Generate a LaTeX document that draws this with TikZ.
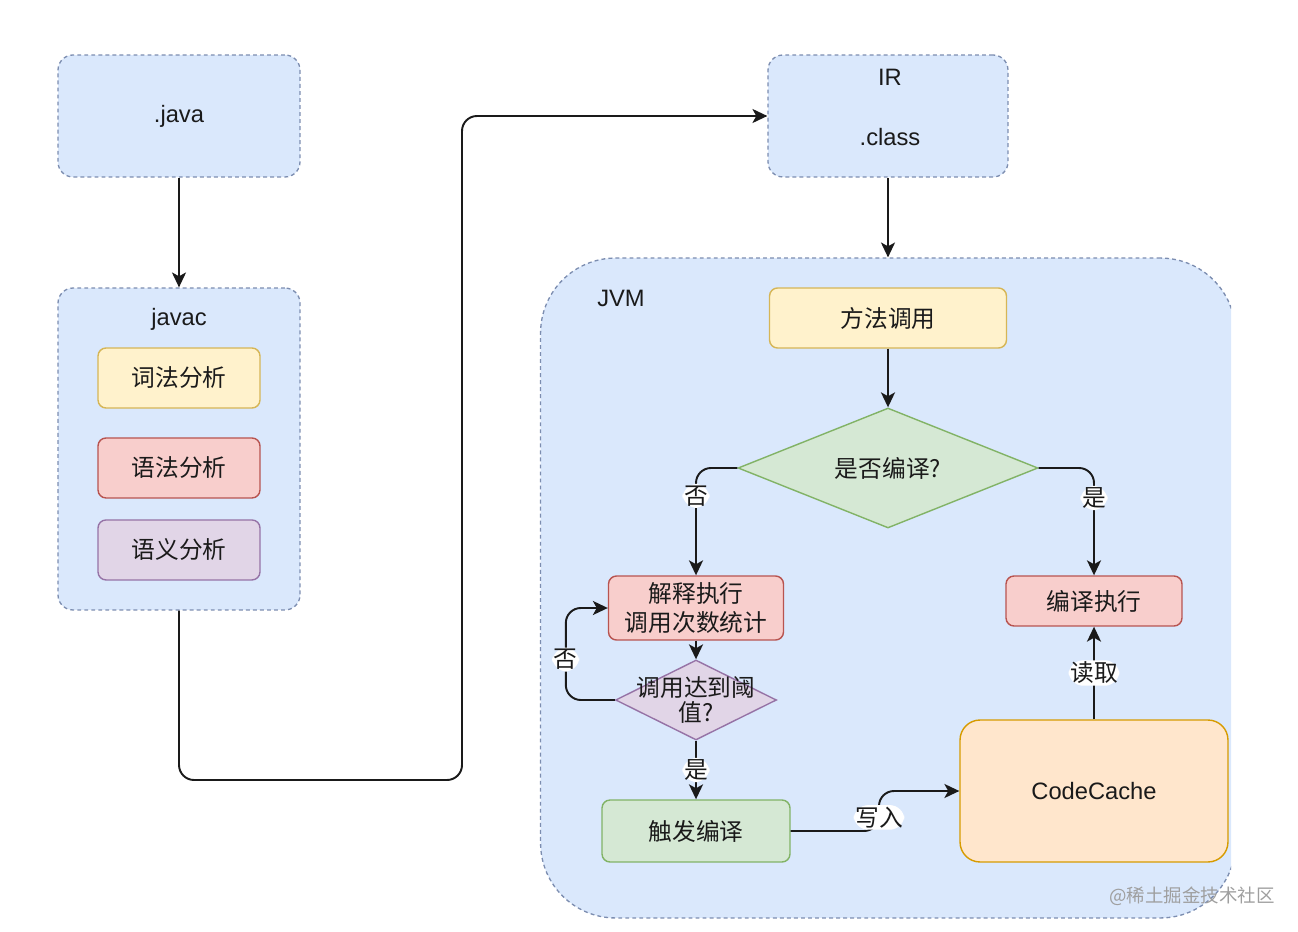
\documentclass[tikz,border=0pt]{standalone}
\usepackage{fontspec}
\setmainfont{Liberation Sans}
\newfontfamily\cjk{Noto Sans CJK SC}
\usetikzlibrary{shapes.geometric,arrows.meta}

\definecolor{blueFill}{HTML}{DAE8FC}
\definecolor{blueLine}{HTML}{7C8DB0}
\definecolor{yellowFill}{HTML}{FFF2CC}
\definecolor{yellowLine}{HTML}{D6B656}
\definecolor{redFill}{HTML}{F8CECC}
\definecolor{redLine}{HTML}{B85450}
\definecolor{purpleFill}{HTML}{E1D5E7}
\definecolor{purpleLine}{HTML}{9673A6}
\definecolor{greenFill}{HTML}{D5E8D4}
\definecolor{greenLine}{HTML}{82B366}
\definecolor{orangeFill}{HTML}{FFE6CC}
\definecolor{orangeLine}{HTML}{D79B00}
\definecolor{inkText}{HTML}{1A1A1A}

\begin{document}
\begin{tikzpicture}[x=0.02cm,y=-0.02cm,>={Stealth[length=8.5pt,width=8pt,inset=2.2pt]},text=inkText,
  font=\fontsize{13.5}{16.5}\selectfont]
 \tikzstyle{outer}=[draw=blueLine,fill=blueFill,line width=0.75pt,dash pattern=on 2.2pt off 1.8pt,rounded corners=0.3cm,inner sep=0pt]
 \tikzstyle{phase}=[draw,line width=0.8pt,rounded corners=0.16cm,minimum width=3.24cm,minimum height=1.2cm,align=center,font=\fontsize{13.5}{16.5}\selectfont\cjk]
 \tikzstyle{decision}=[diamond,draw,line width=0.8pt,aspect=2.5,inner sep=0pt,font=\fontsize{13.5}{16.5}\selectfont\cjk]
 \tikzstyle{flow}=[->,line width=1.1pt,draw=inkText,rounded corners=0.3cm]
 \tikzstyle{lbl}=[fill=white,inner sep=1pt,text=inkText,font=\fontsize{13.5}{16.5}\selectfont\cjk]

\useasboundingbox (0,0) rectangle (1298,932);

% source side
\node[outer,minimum width=4.84cm,minimum height=2.44cm] (java)  at (179,116) {.java};
\node[outer,minimum width=4.84cm,minimum height=6.44cm] (javac) at (179,449) {};
\node (javactitle) at (179,319) {javac};
\node[phase,fill=yellowFill,draw=yellowLine] (lex) at (179,378) {词法分析};
\node[phase,fill=redFill,draw=redLine]       (syn) [below of=lex, node distance=1.8cm]  {语法分析};
\node[phase,fill=purpleFill,draw=purpleLine] (sem) [below of=syn, node distance=1.64cm] {语义分析};

% bytecode
\node[outer,minimum width=4.8cm,minimum height=2.44cm] (IR) at (888,116) {};
\node (IRtitle)  at (890,77)  {IR};
\node (IRclass)  at (890,137) {.class};

% JVM
\begin{scope}
 \clip (0,0) rectangle (1231,932);
 \node[outer,rounded corners=1.5cm,minimum width=13.9cm,minimum height=13.2cm] (jvm) at (888,588) {};
\end{scope}
\node (jvmtitle) at (621,298) {JVM};

\node[phase,fill=yellowFill,draw=yellowLine,minimum width=4.74cm] (call) at (888,318) {方法调用};
\node[decision,fill=greenFill,draw=greenLine,minimum width=6cm,minimum height=2.4cm] (decide) at (888,468) {是否编译?};
\node[phase,fill=redFill,draw=redLine,minimum width=3.5cm,minimum height=1.28cm] (interp) at (696,608) {解释执行\\调用次数统计};
\node[phase,fill=redFill,draw=redLine,minimum width=3.52cm,minimum height=1cm] (compile) at (1094,601) {编译执行};
\node[decision,fill=purpleFill,draw=purpleLine,minimum width=3.22cm,minimum height=1.6cm,
  label={[align=center,font=\fontsize{13.5}{14.5}\selectfont\cjk]center:调用达到阈\\值?}] (thresh) at (696,700) {};
\node[phase,fill=greenFill,draw=greenLine,minimum width=3.76cm,minimum height=1.24cm] (trigger) at (696,831) {触发编译};
\node[phase,fill=orangeFill,draw=orangeLine,rounded corners=0.4cm,minimum width=5.36cm,minimum height=2.84cm,
  font=\fontsize{13.5}{16.5}\selectfont] (cache) at (1094,791) {CodeCache};

\coordinate (jogA) at (462,780);
\coordinate (jogB) at (879,791);

\draw[flow] (java) -- (javac);
\draw[flow] (javac.south) |- (jogA) |- (IR.west);
\draw[flow] (IR) -- (IR.south |- jvm.north);
\draw[flow] (call) -- (decide);
\draw[flow] (decide.west) -| node[lbl,pos=0.63] {否} (interp.north);
\draw[flow] (decide.east) -| node[lbl,pos=0.64] {是} (compile.north);
\draw[flow] (interp) -- (thresh);
\draw[flow] (thresh.west) -- ++(-49,0) |- node[lbl,pos=0.22] {否} (interp.west);
\draw[flow] (thresh) -- node[lbl] {是} (trigger);
\draw[flow] (trigger.east) -| node[lbl,pos=0.67] {写入} (jogB) -- (cache.west);
\draw[flow] (cache) -- node[lbl] {读取} (compile);

\node[text=gray!75,font=\fontsize{10.5}{12}\selectfont\cjk] (mark) at (1192,896) {@稀土掘金技术社区};
\end{tikzpicture}
\end{document}
